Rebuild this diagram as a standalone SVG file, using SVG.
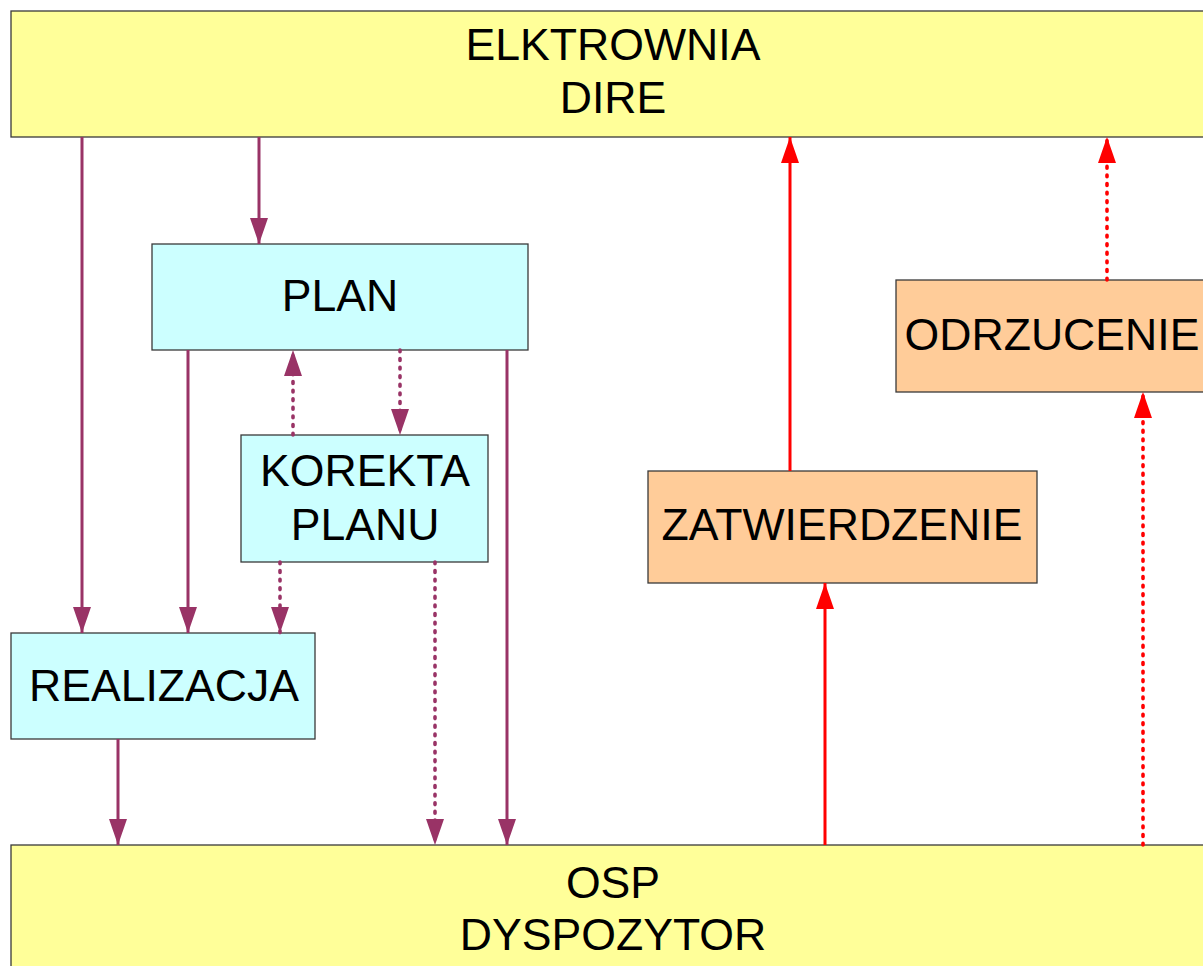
<svg xmlns="http://www.w3.org/2000/svg" width="1203" height="966" viewBox="0 0 1203 966">
<style>
.box{stroke:#3a3a3a;stroke-width:1.3}
.y{fill:#ffff99}.c{fill:#ccffff}.o{fill:#ffcc99}
text{font-family:"Liberation Sans",Arial,sans-serif;font-size:44.6px;fill:#000;text-anchor:middle}
.p{stroke:#993366;stroke-width:3;fill:none}
.r{stroke:#ff0000;stroke-width:3;fill:none}
.d{stroke-width:3.6;stroke-dasharray:1.8 6.8;stroke-linecap:round}
.p.e{marker-end:url(#mp)}
.r.e{marker-end:url(#mr)}
</style>
<defs>
<marker id="mp" markerUnits="userSpaceOnUse" markerWidth="26" markerHeight="18" refX="26" refY="9" orient="auto" viewBox="0 0 26 18"><path d="M0,0 L26,9 L0,18 z" fill="#993366"/></marker>
<marker id="mr" markerUnits="userSpaceOnUse" markerWidth="26" markerHeight="18" refX="26" refY="9" orient="auto" viewBox="0 0 26 18"><path d="M0,0 L26,9 L0,18 z" fill="#ff0000"/></marker>
</defs>
<rect width="1203" height="966" fill="#ffffff"/>
<g id="elektrownia"><rect class="box y" x="11" y="11" width="1220" height="126"/><text x="613" y="60">ELKTROWNIA</text><text x="613" y="113">DIRE</text></g>
<g id="osp"><rect class="box y" x="11" y="845" width="1220" height="150"/><text x="613" y="898">OSP</text><text x="613" y="950">DYSPOZYTOR</text></g>
<g id="plan"><rect class="box c" x="152" y="244" width="376" height="106"/><text x="340" y="311">PLAN</text></g>
<g id="korekta"><rect class="box c" x="241" y="435" width="247" height="127"/><text x="365" y="486">KOREKTA</text><text x="365" y="540">PLANU</text></g>
<g id="realizacja"><rect class="box c" x="11" y="633" width="304" height="106"/><text x="164" y="701">REALIZACJA</text></g>
<g id="zatwierdzenie"><rect class="box o" x="648" y="471" width="389" height="112"/><text x="842" y="540">ZATWIERDZENIE</text></g>
<g id="odrzucenie"><rect class="box o" x="896" y="280" width="313" height="112"/><text x="1052" y="350">ODRZUCENIE</text></g>
<g id="connectors">
<line class="p e" x1="82" y1="137" x2="82" y2="633"/>
<line class="p e" x1="259" y1="137" x2="259" y2="244"/>
<line class="p e" x1="188" y1="350" x2="188" y2="633"/>
<line class="p e d" x1="293" y1="435" x2="293" y2="350"/>
<line class="p e d" x1="400" y1="350" x2="400" y2="435"/>
<line class="p e d" x1="280" y1="562" x2="280" y2="633"/>
<line class="p e d" x1="435" y1="562" x2="435" y2="845"/>
<line class="p e" x1="507" y1="350" x2="507" y2="845"/>
<line class="p e" x1="118" y1="739" x2="118" y2="845"/>
<line class="r e" x1="790" y1="471" x2="790" y2="137"/>
<line class="r e d" x1="1107" y1="280" x2="1107" y2="137"/>
<line class="r e" x1="825" y1="845" x2="825" y2="583"/>
<line class="r e d" x1="1143" y1="845" x2="1143" y2="392"/>
</g>
</svg>
